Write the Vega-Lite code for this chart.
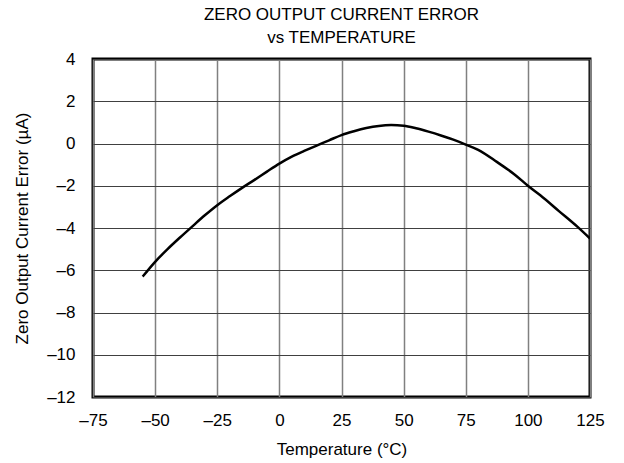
{
  "$schema": "https://vega.github.io/schema/vega-lite/v6.json",
  "autosize": "none",
  "width": 497,
  "height": 338,
  "padding": {"left": 93, "top": 59, "right": 34, "bottom": 66},
  "background": "white",
  "title": {
    "text": ["ZERO OUTPUT CURRENT ERROR", "vs TEMPERATURE"],
    "font": "Liberation Sans",
    "fontSize": 17,
    "fontWeight": "normal",
    "color": "black",
    "lineHeight": 23.5,
    "anchor": "middle",
    "offset": 3
  },
  "config": {
    "view": {"stroke": "black", "strokeWidth": 3},
    "axis": {
      "labelFont": "Liberation Sans",
      "labelFontSize": 17,
      "labelColor": "black",
      "labelFlush": false,
      "labelOverlap": false,
      "titleFont": "Liberation Sans",
      "titleFontSize": 17,
      "titleFontWeight": "normal",
      "titleColor": "black",
      "ticks": false,
      "tickSize": 0,
      "domain": false
    }
  },
  "data": {
    "values": [
      {"t": -55, "e": -6.3},
      {"t": -50, "e": -5.6},
      {"t": -45, "e": -5.0},
      {"t": -40, "e": -4.45},
      {"t": -35, "e": -3.92},
      {"t": -30, "e": -3.4},
      {"t": -25, "e": -2.92},
      {"t": -20, "e": -2.5},
      {"t": -15, "e": -2.1},
      {"t": -10, "e": -1.72},
      {"t": -5, "e": -1.33},
      {"t": 0, "e": -0.95},
      {"t": 5, "e": -0.62},
      {"t": 10, "e": -0.35},
      {"t": 15, "e": -0.1},
      {"t": 20, "e": 0.15},
      {"t": 25, "e": 0.4},
      {"t": 30, "e": 0.58},
      {"t": 35, "e": 0.73},
      {"t": 40, "e": 0.83},
      {"t": 45, "e": 0.87},
      {"t": 50, "e": 0.84},
      {"t": 55, "e": 0.72},
      {"t": 60, "e": 0.56},
      {"t": 65, "e": 0.38},
      {"t": 70, "e": 0.18},
      {"t": 75, "e": -0.05},
      {"t": 80, "e": -0.3},
      {"t": 87.5, "e": -0.87},
      {"t": 95, "e": -1.5},
      {"t": 100, "e": -2.0},
      {"t": 105, "e": -2.45},
      {"t": 112.5, "e": -3.2},
      {"t": 120, "e": -3.95},
      {"t": 125, "e": -4.5}
    ]
  },
  "mark": {"type": "line", "color": "black", "strokeWidth": 2.5, "interpolate": "monotone", "clip": true},
  "encoding": {
    "x": {
      "field": "t",
      "type": "quantitative",
      "title": "Temperature (°C)",
      "scale": {"domain": [-75, 125], "nice": false, "zero": false},
      "axis": {
        "values": [-75, -50, -25, 0, 25, 50, 75, 100, 125],
        "labelPadding": 15,
        "titlePadding": 13,
        "grid": true,
        "gridColor": "#808080",
        "gridWidth": 1.5,
        "labelExpr": "replace(datum.label, '−', '–')"
      }
    },
    "y": {
      "field": "e",
      "type": "quantitative",
      "title": "Zero Output Current Error (µA)",
      "scale": {"domain": [-12, 4], "nice": false, "zero": false},
      "axis": {
        "values": [-12, -10, -8, -6, -4, -2, 0, 2, 4],
        "labelPadding": 18,
        "titlePadding": 15,
        "grid": true,
        "gridColor": "#404040",
        "gridWidth": 1,
        "labelExpr": "replace(datum.label, '−', '–')"
      }
    }
  }
}
